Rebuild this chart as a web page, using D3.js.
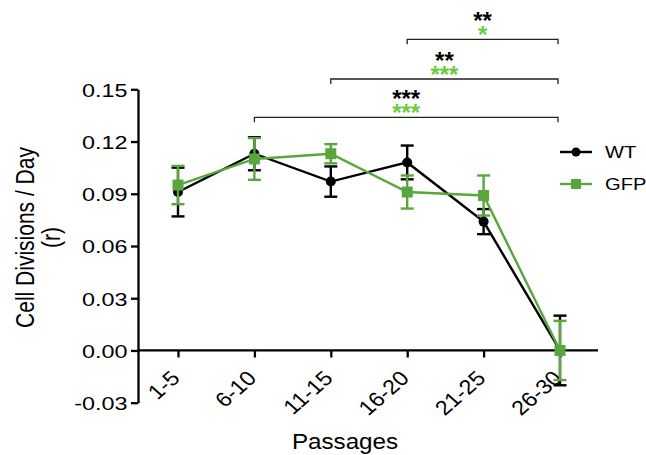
<!DOCTYPE html>
<html><head><meta charset="utf-8">
<script src="https://cdn.jsdelivr.net/npm/d3@7"></script>
<style>body{margin:0;background:#fff}svg{display:block}text{font-family:"Liberation Sans",Arial,sans-serif}</style>
</head><body><svg id="c" width="646" height="455"></svg>
<script>
const categories = ["1-5","6-10","11-15","16-20","21-25","26-30"];
const wtMean = [0.091,0.113,0.097,0.108,0.074,0.000];
const wtErr  = [0.014,0.0095,0.0087,0.0097,0.0072,0.020];
const gfpMean = [0.095,0.110,0.113,0.091,0.089,0.000];
const gfpErr  = [0.011,0.012,0.0055,0.0095,0.0115,0.017];
const yTicks = [-0.03,0.00,0.03,0.06,0.09,0.12,0.15];
const brackets = [
  {from:"16-20", to:"26-30", wt:"**",  gfp:"*"},
  {from:"11-15", to:"26-30", wt:"**",  gfp:"***"},
  {from:"6-10",  to:"26-30", wt:"***", gfp:"***"}
];
const seriesNames = ["WT","GFP"];

const svg = d3.select("#c");
const black = "#000", green = "#58a73d", starGreen = "#6ccb3c";
const x = d3.scalePoint().domain(categories).range([178,560]);
const y = d3.scaleLinear().domain([-0.03,0.15]).range([402.7,89.3]);

// Y axis
const yAxis = d3.axisLeft(y).tickValues(yTicks).tickSize(7).tickSizeOuter(0);
const gy = svg.append("g").attr("transform","translate(138,0)").call(yAxis);
gy.select(".domain").attr("stroke",black).attr("stroke-width",2.3);
gy.selectAll(".tick line").attr("stroke",black).attr("stroke-width",2.3);
gy.selectAll(".tick text").attr("font-size",19).attr("fill",black).attr("x",0).attr("dy","0.36em")
  .attr("transform","translate(-10.5,0) scale(1.23,1)")
  .text(d=> d<0 ? "-" + d3.format(".2f")(-d) : d3.format(".2f")(d));

// X axis at y=0
const xAxis = d3.axisBottom(x).tickSize(7).tickSizeOuter(0);
const gx = svg.append("g").attr("transform",`translate(0,${y(0)})`).call(xAxis);
gx.select(".domain").attr("d","M138,0H598").attr("stroke",black).attr("stroke-width",2.3);
gx.selectAll(".tick line").attr("stroke",black).attr("stroke-width",2.3);
gx.selectAll(".tick text").attr("font-size",20.5).attr("fill",black)
  .attr("text-anchor","end").attr("transform","translate(-3,24) scale(1.14,1) rotate(-45)").attr("x",0).attr("y",0).attr("dy","0.35em");

// labels
svg.append("text").attr("transform","translate(345,449) scale(1.1,1)").attr("text-anchor","middle").attr("font-size",22).text("Passages");
const yl = svg.append("text").attr("transform","translate(33.5,237.5) scale(1.25,1) rotate(-90)").attr("text-anchor","middle").attr("font-size",21);
yl.append("tspan").attr("x",0).attr("dy",0).text("Cell Divisions / Day");
yl.append("tspan").attr("x",0).attr("dy",21).text("(r)");

// series
function drawSeries(mean, err, color, shape){
  const pts = categories.map((c,i)=>({c, m:mean[i], e:err[i]}));
  const g = svg.append("g");
  g.append("path").datum(pts).attr("fill","none").attr("stroke",color).attr("stroke-width",2.4)
    .attr("d", d3.line().x(d=>x(d.c)).y(d=>y(d.m)));
  const eb = g.selectAll(".eb").data(pts).enter().append("g");
  eb.append("line").attr("x1",d=>x(d.c)).attr("x2",d=>x(d.c)).attr("y1",d=>y(d.m+d.e)).attr("y2",d=>y(d.m-d.e)).attr("stroke",color).attr("stroke-width",2.4);
  [1,-1].forEach(s=>{
    eb.append("line").attr("x1",d=>x(d.c)-6.5).attr("x2",d=>x(d.c)+6.5).attr("y1",d=>y(d.m+s*d.e)).attr("y2",d=>y(d.m+s*d.e)).attr("stroke",color).attr("stroke-width",2.4);
  });
  if(shape==="circle"){
    eb.append("circle").attr("cx",d=>x(d.c)).attr("cy",d=>y(d.m)).attr("r",5).attr("fill",color);
  } else {
    eb.append("rect").attr("x",d=>x(d.c)-5.5).attr("y",d=>y(d.m)-5.5).attr("width",11).attr("height",11).attr("fill",color);
  }
}
drawSeries(wtMean, wtErr, black, "circle");
drawSeries(gfpMean, gfpErr, green, "square");

// legend
const leg = [{n:seriesNames[0],c:black,s:"circle",y:152},{n:seriesNames[1],c:green,s:"square",y:184}];
leg.forEach(l=>{
  svg.append("line").attr("x1",560).attr("x2",592).attr("y1",l.y).attr("y2",l.y).attr("stroke",l.c).attr("stroke-width",2.4);
  if(l.s==="circle") svg.append("circle").attr("cx",576).attr("cy",l.y).attr("r",4.5).attr("fill",l.c);
  else svg.append("rect").attr("x",571).attr("y",l.y-5).attr("width",10).attr("height",10).attr("fill",l.c);
  svg.append("text").attr("transform",`translate(605,${l.y}) scale(1.22,1)`).attr("dy","0.36em").attr("font-size",16.5).text(l.n);
});

// significance brackets
const bY = [39.3, 79, 117.3];
brackets.forEach((b,i)=>{
  const x1 = x(b.from), x2 = x(b.to)-2, yy = bY[i];
  svg.append("path").attr("d",`M${x1},${yy+5}V${yy}H${x2}V${yy+5}`).attr("fill","none").attr("stroke","#222").attr("stroke-width",1.3);
  const cx = (x1+x2)/2;
  const t = svg.append("text").attr("x",cx).attr("y",yy-10).attr("text-anchor","middle").attr("font-size",24).attr("font-weight","bold");
  t.append("tspan").attr("x",cx).attr("fill",black).text(b.wt);
  t.append("tspan").attr("x",cx).attr("dy",14).attr("fill",starGreen).text(b.gfp);
});
</script></body></html>
